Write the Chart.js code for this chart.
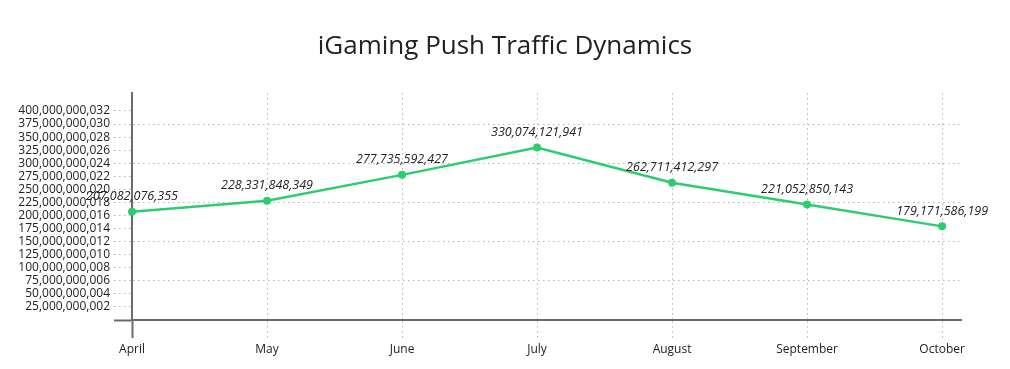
<!DOCTYPE html>
<html>
<head>
<meta charset="utf-8">
<script src="https://cdn.jsdelivr.net/npm/chart.js@4/dist/chart.umd.min.js"></script>
<style>
  html, body { margin: 0; padding: 0; background: #fff; }
  #wrap { width: 1010px; height: 369px; position: relative; }
</style>
</head>
<body>
<div id="wrap"><canvas id="traffic"></canvas></div>
<script>
'use strict';

// --- data ---
var months = ['April', 'May', 'June', 'July', 'August', 'September', 'October'];
var pushTraffic = [207082076355, 228331848349, 277735592427, 330074121941, 262711412297, 221052850143, 179171586199];
var yTicks = [
  0, 25000000002, 50000000004, 75000000006, 100000000008, 125000000010,
  150000000012, 175000000014, 200000000016, 225000000018, 250000000020,
  275000000022, 300000000024, 325000000026, 350000000028, 375000000030,
  400000000032
];
// ticks that get a full-width grid line
var majorTicks = [75000000006, 150000000012, 225000000018, 300000000024, 375000000030];

var LINE_COLOR = '#2ecc71';
var GRID_COLOR = '#b3b3b3';
var AXIS_COLOR = '#6b6b6b';
var TEXT_COLOR = '#222';
var DOTS = [1.5, 3.5];

function fmt(v) { return Number(v).toLocaleString('en-US'); }

// labels above each point
var valueLabels = {
  id: 'valueLabels',
  afterDatasetsDraw: function (chart) {
    var ctx = chart.ctx;
    var meta = chart.getDatasetMeta(0);
    ctx.save();
    ctx.font = 'italic 12.5px "Open Sans"';
    ctx.fillStyle = TEXT_COLOR;
    ctx.textAlign = 'center';
    ctx.textBaseline = 'middle';
    meta.data.forEach(function (pt, i) {
      ctx.fillText(fmt(pushTraffic[i]), pt.x, pt.y - 15);
    });
    ctx.restore();
  }
};

function isZero(c) { return c.tick && c.tick.value === 0; }

Chart.defaults.font.family = '"Open Sans", sans-serif';
Chart.defaults.color = TEXT_COLOR;

new Chart(document.getElementById('traffic'), {
  type: 'line',
  data: {
    datasets: [{
      label: 'Push Traffic',
      data: pushTraffic.map(function (v, i) { return { x: i, y: v }; }),
      borderColor: LINE_COLOR,
      backgroundColor: LINE_COLOR,
      borderWidth: 2.5,
      pointRadius: 4,
      pointHoverRadius: 4,
      pointBorderWidth: 0,
      tension: 0,
      fill: false,
      clip: false
    }]
  },
  options: {
    responsive: true,
    maintainAspectRatio: false,
    animation: false,
    layout: { padding: 0 },
    plugins: {
      legend: { display: false },
      tooltip: { enabled: false },
      title: {
        display: true,
        text: 'iGaming Push Traffic Dynamics',
        color: TEXT_COLOR,
        font: { size: 26, weight: 'normal', family: '"Open Sans", sans-serif' },
        padding: { top: 31, bottom: 31 }
      }
    },
    scales: {
      x: {
        type: 'linear',
        min: 0,
        max: 6.14,
        afterBuildTicks: function (scale) {
          scale.ticks = months.map(function (m, i) { return { value: i }; });
        },
        afterFit: function (scale) { scale.height = 49; },
        ticks: {
          autoSkip: false,
          maxRotation: 0,
          padding: 4,
          font: { size: 12 },
          callback: function (v) { return months[v]; }
        },
        grid: {
          color: function (c) { return isZero(c) ? 'rgba(0,0,0,0)' : GRID_COLOR; },
          lineWidth: 1,
          tickLength: 18,
          tickColor: function (c) { return isZero(c) ? AXIS_COLOR : GRID_COLOR; },
          tickWidth: function (c) { return isZero(c) ? 2 : 1; },
          tickBorderDash: function (c) { return isZero(c) ? [] : DOTS; }
        },
        border: { display: true, color: AXIS_COLOR, width: 2, dash: DOTS }
      },
      y: {
        min: 0,
        max: 434000000000,
        afterBuildTicks: function (scale) {
          scale.ticks = yTicks.map(function (v) { return { value: v }; });
        },
        afterFit: function (scale) { scale.width = 132; },
        ticks: {
          autoSkip: false,
          padding: 4,
          font: { size: 12 },
          callback: function (v) { return v === 0 ? '' : fmt(v); }
        },
        grid: {
          color: function (c) {
            return c.tick && majorTicks.indexOf(c.tick.value) !== -1 ? GRID_COLOR : 'rgba(0,0,0,0)';
          },
          lineWidth: 1,
          tickLength: 18,
          tickColor: function (c) { return isZero(c) ? AXIS_COLOR : GRID_COLOR; },
          tickWidth: function (c) { return isZero(c) ? 2 : 1; },
          tickBorderDash: function (c) { return isZero(c) ? [] : DOTS; }
        },
        border: { display: true, color: AXIS_COLOR, width: 2, dash: DOTS }
      },
      // empty right-side spacer so the title stays centred on the page
      yRight: {
        position: 'right',
        min: 0,
        max: 1,
        afterFit: function (scale) { scale.width = 49; },
        ticks: { display: false },
        grid: { display: false },
        border: { display: false }
      }
    }
  },
  plugins: [valueLabels]
});
</script>
</body>
</html>
